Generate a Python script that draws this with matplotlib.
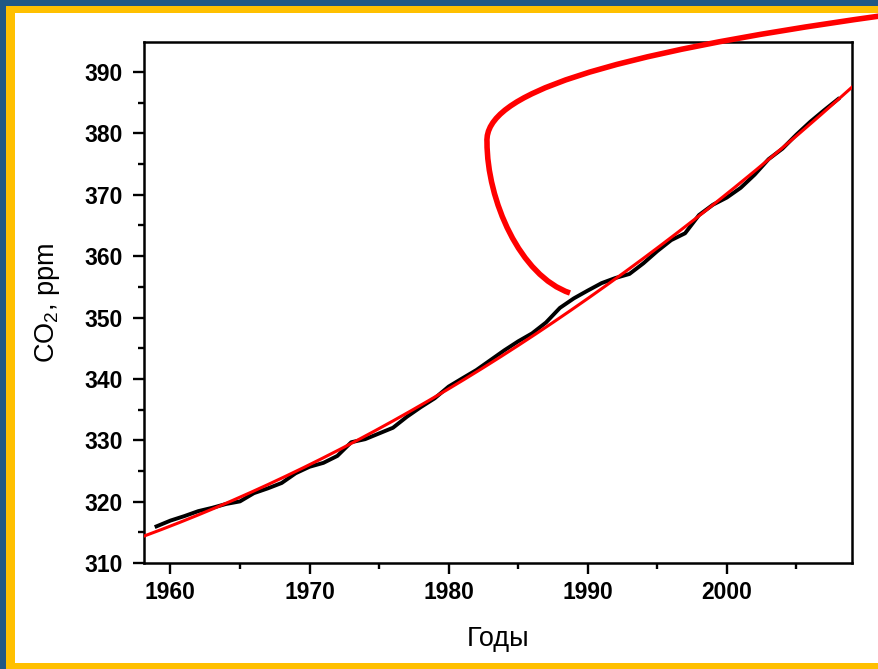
import matplotlib
matplotlib.use("Agg")
import matplotlib.pyplot as plt
import numpy as np
from matplotlib.patches import Rectangle, PathPatch
from matplotlib.path import Path

plt.rcParams['font.family'] = ['Liberation Sans', 'DejaVu Sans']
plt.rcParams['mathtext.default'] = 'regular'

# annual mean CO2 (ppm)
years = list(range(1959, 2009))
co2 = [315.97, 316.91, 317.64, 318.45, 318.99, 319.62, 320.04, 321.38, 322.16, 323.04,
       324.62, 325.68, 326.32, 327.45, 329.68, 330.18, 331.11, 332.04, 333.83, 335.40,
       336.84, 338.75, 340.11, 341.45, 343.05, 344.65, 346.12, 347.42, 349.19, 351.57,
       353.12, 354.39, 355.61, 356.45, 357.10, 358.83, 360.82, 362.61, 363.73, 366.70,
       368.38, 369.55, 371.14, 373.28, 375.80, 377.52, 379.80, 381.90, 383.79, 385.60]

x_ticks = [1960, 1970, 1980, 1990, 2000]
y_ticks = [310, 320, 330, 340, 350, 360, 370, 380, 390]

W, H = 879, 669
fig = plt.figure(figsize=(W / 100, H / 100), dpi=100)
fig.patch.set_facecolor('#215885')

def px(x, y):
    # figure pixels (origin top-left) -> figure fraction
    return x / W, 1 - y / H

# slide frame
fig.patches.append(Rectangle(px(6, 669), (W - 6) / W, (669 - 6) / H, transform=fig.transFigure,
                             facecolor='#ffc000', edgecolor='none', zorder=-2))
fig.patches.append(Rectangle(px(15, 663), (W - 15) / W, (663 - 13) / H, transform=fig.transFigure,
                             facecolor='white', edgecolor='none', zorder=-1))

ax = fig.add_axes([144 / W, (669 - 563) / H, (852 - 144) / W, (563 - 42) / H])
ax.set_zorder(1)
ax.set_facecolor('white')

ax.plot(years, co2, color='black', lw=2.8, zorder=2)

# quadratic trend
coef = np.polyfit(years, co2, 2)
xf = np.linspace(1958.1, 2009.0, 200)
ax.plot(xf, np.polyval(coef, xf), color='#ff0000', lw=2.2, zorder=3)

ax.set_xlim(1958.1, 2009.0)
ax.set_ylim(310, 394.9)
ax.set_xticks(x_ticks)
ax.set_yticks(y_ticks)
ax.set_xticks(np.arange(1965, 2009, 10), minor=True)
ax.set_yticks(np.arange(315, 395, 10), minor=True)
ax.tick_params(which='major', direction='out', length=8, width=1.7, labelsize=16.5, pad=5)
ax.tick_params(axis='y', which='major', pad=7)
ax.tick_params(which='minor', direction='out', length=4, width=1.7)
for lab in ax.get_xticklabels() + ax.get_yticklabels():
    lab.set_fontweight('bold')
for s in ax.spines.values():
    s.set_linewidth(1.8)

ax.set_xlabel('Годы', fontsize=19.5, labelpad=16)
ax.set_ylabel('CO$_2$, ppm', fontsize=19.5, labelpad=16)

# red hand-drawn pointer
verts = [px(880, 16), px(600, 55), px(484, 95), px(487, 142),
         px(487, 200), px(520, 276), px(570, 293)]
codes = [Path.MOVETO] + [Path.CURVE4] * 6
fig.patches.append(PathPatch(Path(verts, codes), transform=fig.transFigure,
                             facecolor='none', edgecolor='#ff0000', lw=4, zorder=5))

fig.savefig('out.png', dpi=100)
